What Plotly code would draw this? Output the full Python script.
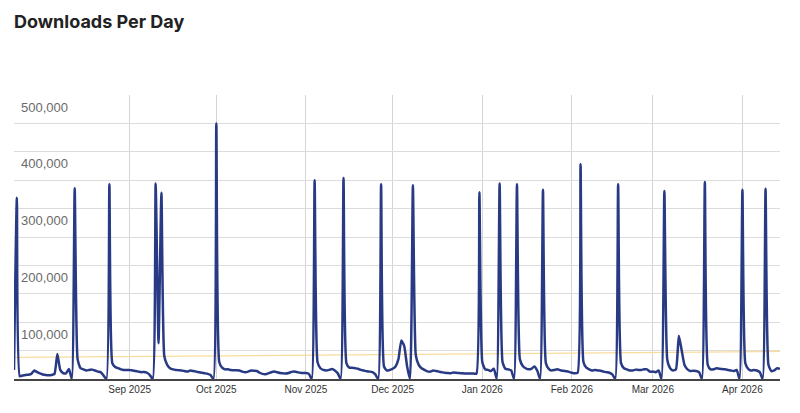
import plotly.graph_objects as go
import pandas as pd

start_date = "2025-07-23"

# Daily downloads, in thousands, from 2025-07-23 to 2026-04-14
downloads_k = [
    16, 319, 5, 6, 7, 7.6, 9, 15, 12, 10,
    8, 7, 6.5, 7, 9, 44, 16, 10.5, 10, 17.5,
    0, 336, 35, 19, 17, 15, 16, 16.5, 15, 13,
    12, 6, 0, 343, 28, 21, 19, 17, 16, 16,
    16, 15, 14, 13, 12, 12.5, 11, 7, 0, 344,
    63, 328, 40, 25, 19, 17, 16, 15.5, 15, 14,
    13, 15, 14, 13, 12, 11, 10, 9, 7, 0,
    450, 30, 20, 17, 17, 16, 15.5, 15.5, 15, 13,
    12, 13, 15, 14.5, 14, 11, 9, 8.5, 10, 12,
    13, 12, 10.5, 10, 9.5, 10.5, 12.5, 13, 12, 11,
    10.5, 10.5, 9, 0, 350, 30, 19, 16, 15, 16,
    17.5, 15, 10, 0, 354, 28, 20, 20, 19, 18,
    16, 15, 13.5, 13, 12, 8, 0, 343, 22, 15,
    16, 18, 22, 35, 68, 58, 22, 0, 341, 42,
    25, 19, 16, 13.5, 13, 15, 14, 13, 12, 11,
    10.5, 10, 11.5, 11, 10.5, 10, 9.5, 9.5, 9.5, 9.5,
    9.5, 329, 30, 17, 16, 14, 18, 0, 344, 30,
    18, 17, 15, 0, 343, 35, 23, 19, 17, 18,
    22, 15, 0, 333, 28, 18, 15, 16, 17, 15.5,
    14.5, 13.5, 12.5, 11, 10, 11, 378, 30, 20, 17,
    15, 16, 15, 14.5, 13, 12, 11, 8, 0, 343,
    28, 19, 17, 15, 15, 16.5, 16, 16, 17, 17,
    13, 13, 12, 15, 0, 331, 34, 19, 15, 17,
    76, 50, 24, 17, 14, 14.5, 14, 12, 0, 347,
    25, 17, 17, 19, 18, 17.5, 17, 16, 15, 14,
    16, 0, 333, 28, 18, 15, 16, 15, 12, 0,
    335, 25, 14, 15, 19, 18,
]

# Trend line end points (thousands)
trend_k = [38, 48.5]

month_ticks = ["2025-08-01", "2025-09-01", "2025-10-01", "2025-11-01", "2025-12-01",
               "2026-01-01", "2026-02-01", "2026-03-01", "2026-04-01"]
month_labels = ["", "Sep 2025", "Oct 2025", "Nov 2025", "Dec 2025",
                "Jan 2026", "Feb 2026", "Mar 2026", "Apr 2026"]

y_ticks = [0, 50000, 100000, 150000, 200000, 250000, 300000, 350000, 400000, 450000, 500000]
y_labels = ["", "", "100,000", "", "200,000", "", "300,000", "", "400,000", "", "500,000"]

dates = pd.date_range(start_date, periods=len(downloads_k), freq="D")
values = [v * 1000 for v in downloads_k]

fig = go.Figure()
fig.add_trace(go.Scatter(
    x=[dates[0], dates[-1]], y=[t * 1000 for t in trend_k],
    mode="lines", line=dict(color="#f8dc9c", width=1.2),
    hoverinfo="skip", showlegend=False,
))
fig.add_trace(go.Scatter(
    x=dates, y=values, mode="lines",
    line=dict(color="#283a84", width=2.5, shape="spline", smoothing=0.5),
    showlegend=False, name="Downloads",
))

fig.update_layout(
    width=800, height=413,
    margin=dict(l=14, r=20, t=95, b=34),
    paper_bgcolor="white", plot_bgcolor="white",
    title=dict(text="<b>Downloads Per Day</b>", x=14 / 800, xanchor="left",
               y=1 - 22 / 413, yanchor="middle",
               font=dict(family="Inter, Arial, sans-serif", size=18, color="#222222")),
    showlegend=False,
)
fig.update_xaxes(
    range=[dates[0], dates[-1]],
    tickmode="array", tickvals=month_ticks, ticktext=month_labels,
    showgrid=True, gridcolor="#d4d4d4", gridwidth=1,
    showline=True, linecolor="#444444", linewidth=1.5,
    ticks="", tickfont=dict(family="Arial, Liberation Sans, sans-serif", size=10, color="#333333"),
    zeroline=False, automargin=False,
)
fig.update_yaxes(
    range=[0, 500000],
    tickmode="array", tickvals=y_ticks, ticktext=y_labels,
    showgrid=True, gridcolor="#dcdcdc", gridwidth=1,
    ticklabelposition="inside", ticklabelstandoff=4, ticklabelshift=12,
    tickfont=dict(family="Arial, Liberation Sans, sans-serif", size=13, color="#6a6a6a"),
    zeroline=False, showline=False, ticks="", automargin=False,
)

fig.write_html("out.html", config={"displayModeBar": False},
               post_script="document.body.style.margin='0';")
